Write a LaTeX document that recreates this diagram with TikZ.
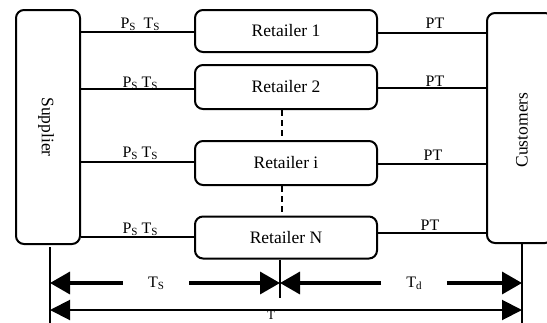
\documentclass[tikz,border=0pt]{standalone}
\usepackage{fontspec}
\setmainfont{Liberation Serif}
\usetikzlibrary{arrows.meta}
\newcommand{\subS}[1]{\raisebox{-0.3ex}{\fontsize{11}{11}\selectfont #1}}
\begin{document}
\begin{tikzpicture}[x=1pt,y=-1pt,
  box/.style={draw, line width=2pt, rounded corners=8pt, inner sep=0pt},
  conn/.style={line width=2pt},
  lab/.style={anchor=base, inner sep=0pt, font=\fontsize{16}{16}\selectfont},
  boxtxt/.style={font=\fontsize{17.5}{17.5}\selectfont},
  dim/.style={line width=3.5pt, -{Triangle[length=20pt,width=22pt]}},
  dimthin/.style={line width=2pt, {Triangle[length=20pt,width=20pt]}-{Triangle[length=20pt,width=20pt]}},
  vline/.style={line width=2pt}]
\useasboundingbox (0,0) rectangle (547,322);
% boxes
\node[box, minimum width=64pt, minimum height=234pt] (sup) at (48,127) {};
\node[boxtxt, rotate=-90] (suptxt) at (46,127) {Supplier};
\node[box, minimum width=66pt, minimum height=230pt] (cus) at (520,128) {};
\node[boxtxt, rotate=90] (custxt) at (522,130) {Customers};
\node[box, boxtxt, minimum width=182pt, minimum height=42pt] (r1) at (286,31) {Retailer 1};
\node[box, boxtxt, minimum width=182pt, minimum height=44pt] (r2) at (286,87) {Retailer 2};
\node[box, boxtxt, minimum width=182pt, minimum height=44pt] (ri) at (286,163) {Retailer i};
\node[box, boxtxt, minimum width=182pt, minimum height=42pt] (rn) at (286,237.5) {Retailer N};
% connectors
\coordinate (l1) at (195,32);
\coordinate (l2) at (195,89);
\coordinate (l3) at (195,162);
\coordinate (l4) at (195,237);
\draw[line width=1.6pt] (l1) -- (l1 -| sup.east);
\draw[line width=2.4pt] (l2) -- (l2 -| sup.east);
\draw[line width=2.4pt] (l3) -- (l3 -| sup.east);
\draw[line width=1.6pt] (l4) -- (l4 -| sup.east);
\coordinate (m1) at (377,33);
\coordinate (m2) at (377,88);
\coordinate (m3) at (377,164);
\coordinate (m4) at (377,233);
\draw[line width=1.6pt] (m1) -- (m1 -| cus.west);
\draw[line width=2.4pt] (m2) -- (m2 -| cus.west);
\draw[line width=2.4pt] (m3) -- (m3 -| cus.west);
\draw[line width=2.4pt] (m4) -- (m4 -| cus.west);
\draw[line width=2.5pt, dash pattern=on 6pt off 4pt] (r2.south -| 282,0) -- (ri.north -| 282,0);
\draw[line width=2.5pt, dash pattern=on 6pt off 4pt] (ri.south -| 282,0) -- (rn.north -| 282,0);
% labels
\node[lab] (ps1) at (140,28) {P\subS{S}\ \ T\subS{S}};
\node[lab] (ps2) at (140,87) {P\subS{S} T\subS{S}};
\node[lab] (ps3) at (140,157) {P\subS{S} T\subS{S}};
\node[lab] (ps4) at (140,233) {P\subS{S} T\subS{S}};
\node[lab] (pt1) at (435,28) {PT};
\node[lab] (pt2) at (435,86) {PT};
\node[lab] (pt3) at (433,160) {PT};
\node[lab] (pt4) at (430,230) {PT};
% dimension lines
\coordinate (vl) at (50,247);
\coordinate (vlb) at (50,325);
\coordinate (vm) at (280,298);
\coordinate (vr) at (522,325);
\draw[vline] (vl) -- (vlb);
\draw[vline] (rn.south -| vm) -- (vm);
\draw[vline] (cus.south -| vr) -- (vr);
\node[lab, anchor=center] (ts) at (156,283) {T\subS{S}};
\node[lab, anchor=center] (td) at (414,283) {T\raisebox{-0.3ex}{\fontsize{11}{11}\selectfont d}};
\draw[dim] (ts.west) ++(-25,0) coordinate (tsa) -- (tsa -| vl);
\draw[dim] (ts.east) ++(25,0) coordinate (tsb) -- (tsb -| vm);
\draw[dim] (td.west) ++(-25,0) coordinate (tda) -- (tda -| vm);
\draw[dim] (td.east) ++(25,0) coordinate (tdb) -- (tdb -| vr);
\coordinate (tl) at (50,310);
\draw[dimthin] (tl) -- (tl -| vr);
\node[lab, font=\fontsize{13}{13}\selectfont] (tt) at (271,319.5) {T};
\end{tikzpicture}
\end{document}
